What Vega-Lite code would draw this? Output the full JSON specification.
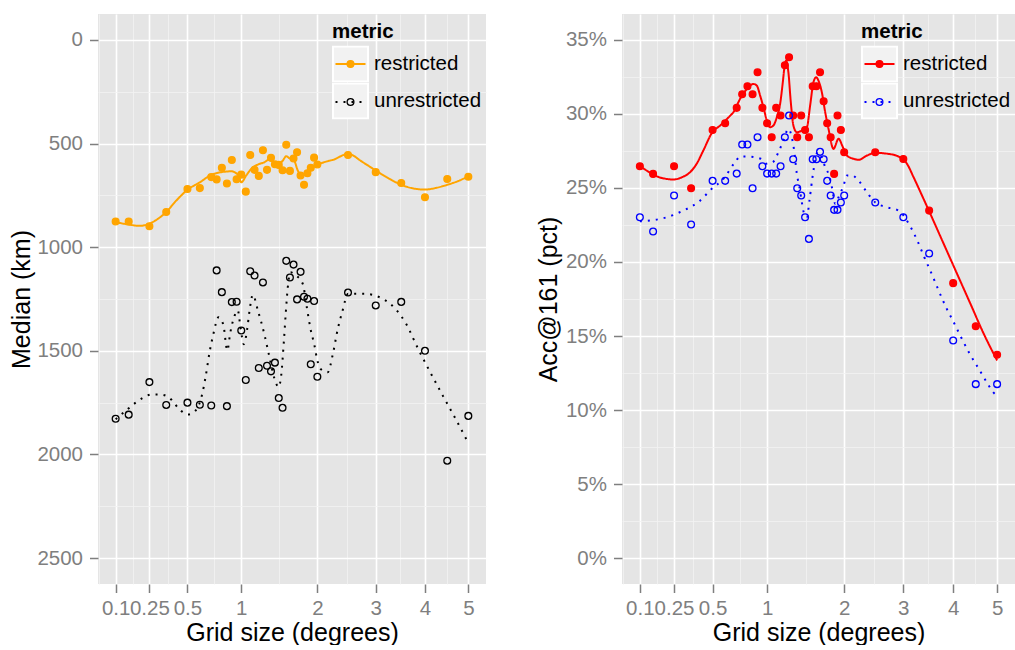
{
  "$schema": "https://vega.github.io/schema/vega-lite/v6.json",
  "padding": {"left": 9, "top": 14, "right": 0, "bottom": 0},
  "spacing": 50,
  "resolve": {
    "scale": {"color": "independent", "stroke": "independent", "fill": "independent", "strokeDash": "independent", "shape": "independent"},
    "legend": {"color": "independent", "stroke": "independent", "fill": "independent", "strokeDash": "independent", "shape": "independent"}
  },
  "config": {
    "font": "Liberation Sans",
    "view": {"fill": "#E5E5E5", "stroke": null},
    "axis": {
      "labelFont": "Liberation Sans",
      "titleFont": "Liberation Sans",
      "labelFontSize": 20.5,
      "labelColor": "#7F7F7F",
      "titleFontSize": 25,
      "titleFontWeight": "normal",
      "titleColor": "#000000",
      "tickColor": "#7F7F7F",
      "tickSize": 8.5,
      "tickWidth": 1.5,
      "domain": false,
      "labelOverlap": false,
      "labelFlush": false
    },
    "legend": {
      "labelFont": "Liberation Sans",
      "titleFont": "Liberation Sans",
      "clipHeight": 37,
      "rowPadding": 0,
      "padding": 0,
      "orient": "none"
    }
  },
  "datasets": {
    "keys": [
      {"metric": "restricted"},
      {"metric": "unrestricted"}
    ],
    "medianPts": [
      {"size": 0.1, "metric": "restricted", "km": 876},
      {"size": 0.15, "metric": "restricted", "km": 876},
      {"size": 0.25, "metric": "restricted", "km": 899},
      {"size": 0.35, "metric": "restricted", "km": 830},
      {"size": 0.5, "metric": "restricted", "km": 719},
      {"size": 0.6, "metric": "restricted", "km": 715},
      {"size": 0.7, "metric": "restricted", "km": 662},
      {"size": 0.75, "metric": "restricted", "km": 673},
      {"size": 0.8, "metric": "restricted", "km": 617},
      {"size": 0.85, "metric": "restricted", "km": 693},
      {"size": 0.9, "metric": "restricted", "km": 579},
      {"size": 0.95, "metric": "restricted", "km": 672},
      {"size": 1.0, "metric": "restricted", "km": 650},
      {"size": 1.05, "metric": "restricted", "km": 732},
      {"size": 1.1, "metric": "restricted", "km": 555},
      {"size": 1.15, "metric": "restricted", "km": 627},
      {"size": 1.2, "metric": "restricted", "km": 656},
      {"size": 1.25, "metric": "restricted", "km": 532},
      {"size": 1.3, "metric": "restricted", "km": 627},
      {"size": 1.35, "metric": "restricted", "km": 569},
      {"size": 1.4, "metric": "restricted", "km": 600},
      {"size": 1.45, "metric": "restricted", "km": 603},
      {"size": 1.5, "metric": "restricted", "km": 629},
      {"size": 1.55, "metric": "restricted", "km": 506},
      {"size": 1.6, "metric": "restricted", "km": 632},
      {"size": 1.65, "metric": "restricted", "km": 572},
      {"size": 1.7, "metric": "restricted", "km": 542},
      {"size": 1.75, "metric": "restricted", "km": 654},
      {"size": 1.8, "metric": "restricted", "km": 699},
      {"size": 1.85, "metric": "restricted", "km": 643},
      {"size": 1.9, "metric": "restricted", "km": 617},
      {"size": 1.95, "metric": "restricted", "km": 568},
      {"size": 2.0, "metric": "restricted", "km": 601},
      {"size": 2.5, "metric": "restricted", "km": 555},
      {"size": 3.0, "metric": "restricted", "km": 638},
      {"size": 3.5, "metric": "restricted", "km": 690},
      {"size": 4.0, "metric": "restricted", "km": 759},
      {"size": 4.5, "metric": "restricted", "km": 671},
      {"size": 5.0, "metric": "restricted", "km": 660},
      {"size": 0.1, "metric": "unrestricted", "km": 1828},
      {"size": 0.15, "metric": "unrestricted", "km": 1808},
      {"size": 0.25, "metric": "unrestricted", "km": 1651},
      {"size": 0.35, "metric": "unrestricted", "km": 1761},
      {"size": 0.5, "metric": "unrestricted", "km": 1750},
      {"size": 0.6, "metric": "unrestricted", "km": 1760},
      {"size": 0.7, "metric": "unrestricted", "km": 1764},
      {"size": 0.75, "metric": "unrestricted", "km": 1112},
      {"size": 0.8, "metric": "unrestricted", "km": 1217},
      {"size": 0.85, "metric": "unrestricted", "km": 1767},
      {"size": 0.9, "metric": "unrestricted", "km": 1265},
      {"size": 0.95, "metric": "unrestricted", "km": 1263},
      {"size": 1.0, "metric": "unrestricted", "km": 1402},
      {"size": 1.05, "metric": "unrestricted", "km": 1641},
      {"size": 1.1, "metric": "unrestricted", "km": 1116},
      {"size": 1.15, "metric": "unrestricted", "km": 1137},
      {"size": 1.2, "metric": "unrestricted", "km": 1583},
      {"size": 1.25, "metric": "unrestricted", "km": 1170},
      {"size": 1.3, "metric": "unrestricted", "km": 1572},
      {"size": 1.35, "metric": "unrestricted", "km": 1599},
      {"size": 1.4, "metric": "unrestricted", "km": 1557},
      {"size": 1.45, "metric": "unrestricted", "km": 1728},
      {"size": 1.5, "metric": "unrestricted", "km": 1775},
      {"size": 1.55, "metric": "unrestricted", "km": 1066},
      {"size": 1.6, "metric": "unrestricted", "km": 1146},
      {"size": 1.65, "metric": "unrestricted", "km": 1084},
      {"size": 1.7, "metric": "unrestricted", "km": 1252},
      {"size": 1.75, "metric": "unrestricted", "km": 1119},
      {"size": 1.8, "metric": "unrestricted", "km": 1239},
      {"size": 1.85, "metric": "unrestricted", "km": 1249},
      {"size": 1.9, "metric": "unrestricted", "km": 1565},
      {"size": 1.95, "metric": "unrestricted", "km": 1260},
      {"size": 2.0, "metric": "unrestricted", "km": 1625},
      {"size": 2.5, "metric": "unrestricted", "km": 1219},
      {"size": 3.0, "metric": "unrestricted", "km": 1281},
      {"size": 3.5, "metric": "unrestricted", "km": 1264},
      {"size": 4.0, "metric": "unrestricted", "km": 1500},
      {"size": 4.5, "metric": "unrestricted", "km": 2030},
      {"size": 5.0, "metric": "unrestricted", "km": 1814}
    ],
    "medianFit": [
      {"size": 0.1, "metric": "restricted", "km": 879},
      {"size": 0.151, "metric": "restricted", "km": 891},
      {"size": 0.2, "metric": "restricted", "km": 897},
      {"size": 0.25, "metric": "restricted", "km": 887},
      {"size": 0.299, "metric": "restricted", "km": 863},
      {"size": 0.35, "metric": "restricted", "km": 830},
      {"size": 0.418, "metric": "restricted", "km": 775},
      {"size": 0.5, "metric": "restricted", "km": 723},
      {"size": 0.6, "metric": "restricted", "km": 687},
      {"size": 0.7, "metric": "restricted", "km": 651},
      {"size": 0.794, "metric": "restricted", "km": 638},
      {"size": 0.894, "metric": "restricted", "km": 634},
      {"size": 0.971, "metric": "restricted", "km": 654},
      {"size": 1.0, "metric": "restricted", "km": 687},
      {"size": 1.055, "metric": "restricted", "km": 654},
      {"size": 1.112, "metric": "restricted", "km": 622},
      {"size": 1.19, "metric": "restricted", "km": 601},
      {"size": 1.269, "metric": "restricted", "km": 590},
      {"size": 1.319, "metric": "restricted", "km": 579},
      {"size": 1.395, "metric": "restricted", "km": 590},
      {"size": 1.46, "metric": "restricted", "km": 595},
      {"size": 1.504, "metric": "restricted", "km": 582},
      {"size": 1.549, "metric": "restricted", "km": 561},
      {"size": 1.594, "metric": "restricted", "km": 571},
      {"size": 1.654, "metric": "restricted", "km": 579},
      {"size": 1.71, "metric": "restricted", "km": 630},
      {"size": 1.759, "metric": "restricted", "km": 654},
      {"size": 1.807, "metric": "restricted", "km": 646},
      {"size": 1.881, "metric": "restricted", "km": 627},
      {"size": 1.982, "metric": "restricted", "km": 606},
      {"size": 2.034, "metric": "restricted", "km": 598},
      {"size": 2.164, "metric": "restricted", "km": 585},
      {"size": 2.244, "metric": "restricted", "km": 579},
      {"size": 2.502, "metric": "restricted", "km": 550},
      {"size": 2.76, "metric": "restricted", "km": 590},
      {"size": 3.0, "metric": "restricted", "km": 630},
      {"size": 3.263, "metric": "restricted", "km": 670},
      {"size": 3.5, "metric": "restricted", "km": 699},
      {"size": 3.737, "metric": "restricted", "km": 716},
      {"size": 4.0, "metric": "restricted", "km": 722},
      {"size": 4.245, "metric": "restricted", "km": 714},
      {"size": 4.5, "metric": "restricted", "km": 699},
      {"size": 4.743, "metric": "restricted", "km": 682},
      {"size": 5.0, "metric": "restricted", "km": 658},
      {"size": 0.1, "metric": "unrestricted", "km": 1830},
      {"size": 0.147, "metric": "unrestricted", "km": 1780},
      {"size": 0.216, "metric": "unrestricted", "km": 1727},
      {"size": 0.261, "metric": "unrestricted", "km": 1711},
      {"size": 0.313, "metric": "unrestricted", "km": 1711},
      {"size": 0.366, "metric": "unrestricted", "km": 1724},
      {"size": 0.449, "metric": "unrestricted", "km": 1788},
      {"size": 0.504, "metric": "unrestricted", "km": 1807},
      {"size": 0.565, "metric": "unrestricted", "km": 1788},
      {"size": 0.617, "metric": "unrestricted", "km": 1715},
      {"size": 0.649, "metric": "unrestricted", "km": 1627},
      {"size": 0.685, "metric": "unrestricted", "km": 1506},
      {"size": 0.719, "metric": "unrestricted", "km": 1420},
      {"size": 0.768, "metric": "unrestricted", "km": 1338},
      {"size": 0.814, "metric": "unrestricted", "km": 1373},
      {"size": 0.854, "metric": "unrestricted", "km": 1498},
      {"size": 0.884, "metric": "unrestricted", "km": 1413},
      {"size": 0.929, "metric": "unrestricted", "km": 1330},
      {"size": 0.963, "metric": "unrestricted", "km": 1305},
      {"size": 0.989, "metric": "unrestricted", "km": 1378},
      {"size": 1.028, "metric": "unrestricted", "km": 1468},
      {"size": 1.066, "metric": "unrestricted", "km": 1394},
      {"size": 1.092, "metric": "unrestricted", "km": 1307},
      {"size": 1.13, "metric": "unrestricted", "km": 1230},
      {"size": 1.189, "metric": "unrestricted", "km": 1305},
      {"size": 1.269, "metric": "unrestricted", "km": 1423},
      {"size": 1.319, "metric": "unrestricted", "km": 1510},
      {"size": 1.395, "metric": "unrestricted", "km": 1635},
      {"size": 1.447, "metric": "unrestricted", "km": 1675},
      {"size": 1.482, "metric": "unrestricted", "km": 1619},
      {"size": 1.517, "metric": "unrestricted", "km": 1458},
      {"size": 1.544, "metric": "unrestricted", "km": 1314},
      {"size": 1.571, "metric": "unrestricted", "km": 1193},
      {"size": 1.608, "metric": "unrestricted", "km": 1121},
      {"size": 1.688, "metric": "unrestricted", "km": 1137},
      {"size": 1.782, "metric": "unrestricted", "km": 1177},
      {"size": 1.841, "metric": "unrestricted", "km": 1290},
      {"size": 1.896, "metric": "unrestricted", "km": 1394},
      {"size": 1.956, "metric": "unrestricted", "km": 1474},
      {"size": 1.997, "metric": "unrestricted", "km": 1542},
      {"size": 2.059, "metric": "unrestricted", "km": 1590},
      {"size": 2.164, "metric": "unrestricted", "km": 1603},
      {"size": 2.244, "metric": "unrestricted", "km": 1518},
      {"size": 2.327, "metric": "unrestricted", "km": 1394},
      {"size": 2.4, "metric": "unrestricted", "km": 1314},
      {"size": 2.502, "metric": "unrestricted", "km": 1225},
      {"size": 2.791, "metric": "unrestricted", "km": 1225},
      {"size": 3.133, "metric": "unrestricted", "km": 1249},
      {"size": 3.396, "metric": "unrestricted", "km": 1301},
      {"size": 3.6, "metric": "unrestricted", "km": 1370},
      {"size": 3.843, "metric": "unrestricted", "km": 1486},
      {"size": 4.103, "metric": "unrestricted", "km": 1598},
      {"size": 4.394, "metric": "unrestricted", "km": 1715},
      {"size": 4.689, "metric": "unrestricted", "km": 1826},
      {"size": 5.0, "metric": "unrestricted", "km": 1945}
    ],
    "accPts": [
      {"size": 0.1, "metric": "restricted", "acc": 26.47},
      {"size": 0.15, "metric": "restricted", "acc": 25.95},
      {"size": 0.25, "metric": "restricted", "acc": 26.47},
      {"size": 0.35, "metric": "restricted", "acc": 24.98},
      {"size": 0.5, "metric": "restricted", "acc": 28.92},
      {"size": 0.6, "metric": "restricted", "acc": 29.37},
      {"size": 0.7, "metric": "restricted", "acc": 30.41},
      {"size": 0.75, "metric": "restricted", "acc": 31.33},
      {"size": 0.8, "metric": "restricted", "acc": 31.87},
      {"size": 0.85, "metric": "restricted", "acc": 31.33},
      {"size": 0.9, "metric": "restricted", "acc": 32.81},
      {"size": 0.95, "metric": "restricted", "acc": 30.41},
      {"size": 1.0, "metric": "restricted", "acc": 29.37},
      {"size": 1.05, "metric": "restricted", "acc": 28.43},
      {"size": 1.1, "metric": "restricted", "acc": 30.41},
      {"size": 1.15, "metric": "restricted", "acc": 29.89},
      {"size": 1.2, "metric": "restricted", "acc": 33.29},
      {"size": 1.25, "metric": "restricted", "acc": 33.83},
      {"size": 1.3, "metric": "restricted", "acc": 29.89},
      {"size": 1.35, "metric": "restricted", "acc": 28.43},
      {"size": 1.4, "metric": "restricted", "acc": 29.89},
      {"size": 1.45, "metric": "restricted", "acc": 28.92},
      {"size": 1.5, "metric": "restricted", "acc": 28.43},
      {"size": 1.55, "metric": "restricted", "acc": 31.87},
      {"size": 1.6, "metric": "restricted", "acc": 31.87},
      {"size": 1.65, "metric": "restricted", "acc": 32.81},
      {"size": 1.7, "metric": "restricted", "acc": 30.86},
      {"size": 1.75, "metric": "restricted", "acc": 29.37},
      {"size": 1.8, "metric": "restricted", "acc": 28.43},
      {"size": 1.85, "metric": "restricted", "acc": 25.95},
      {"size": 1.9, "metric": "restricted", "acc": 29.89},
      {"size": 1.95, "metric": "restricted", "acc": 28.92},
      {"size": 2.0, "metric": "restricted", "acc": 27.41},
      {"size": 2.5, "metric": "restricted", "acc": 27.41},
      {"size": 3.0, "metric": "restricted", "acc": 26.96},
      {"size": 3.5, "metric": "restricted", "acc": 23.47},
      {"size": 4.0, "metric": "restricted", "acc": 18.57},
      {"size": 4.5, "metric": "restricted", "acc": 15.66},
      {"size": 5.0, "metric": "restricted", "acc": 13.73},
      {"size": 0.1, "metric": "unrestricted", "acc": 23.02},
      {"size": 0.15, "metric": "unrestricted", "acc": 22.06},
      {"size": 0.25, "metric": "unrestricted", "acc": 24.49},
      {"size": 0.35, "metric": "unrestricted", "acc": 22.53},
      {"size": 0.5, "metric": "unrestricted", "acc": 25.48},
      {"size": 0.6, "metric": "unrestricted", "acc": 25.48},
      {"size": 0.7, "metric": "unrestricted", "acc": 25.97},
      {"size": 0.75, "metric": "unrestricted", "acc": 27.93},
      {"size": 0.8, "metric": "unrestricted", "acc": 27.93},
      {"size": 0.85, "metric": "unrestricted", "acc": 24.98},
      {"size": 0.9, "metric": "unrestricted", "acc": 28.43},
      {"size": 0.95, "metric": "unrestricted", "acc": 26.47},
      {"size": 1.0, "metric": "unrestricted", "acc": 25.97},
      {"size": 1.05, "metric": "unrestricted", "acc": 25.97},
      {"size": 1.1, "metric": "unrestricted", "acc": 25.97},
      {"size": 1.15, "metric": "unrestricted", "acc": 26.47},
      {"size": 1.2, "metric": "unrestricted", "acc": 28.43},
      {"size": 1.25, "metric": "unrestricted", "acc": 29.89},
      {"size": 1.3, "metric": "unrestricted", "acc": 26.94},
      {"size": 1.35, "metric": "unrestricted", "acc": 24.98},
      {"size": 1.4, "metric": "unrestricted", "acc": 24.49},
      {"size": 1.45, "metric": "unrestricted", "acc": 23.02},
      {"size": 1.5, "metric": "unrestricted", "acc": 21.56},
      {"size": 1.55, "metric": "unrestricted", "acc": 26.94},
      {"size": 1.6, "metric": "unrestricted", "acc": 26.94},
      {"size": 1.65, "metric": "unrestricted", "acc": 27.44},
      {"size": 1.7, "metric": "unrestricted", "acc": 26.94},
      {"size": 1.75, "metric": "unrestricted", "acc": 25.48},
      {"size": 1.8, "metric": "unrestricted", "acc": 24.49},
      {"size": 1.85, "metric": "unrestricted", "acc": 23.52},
      {"size": 1.9, "metric": "unrestricted", "acc": 23.52},
      {"size": 1.95, "metric": "unrestricted", "acc": 24.02},
      {"size": 2.0, "metric": "unrestricted", "acc": 24.49},
      {"size": 2.5, "metric": "unrestricted", "acc": 24.02},
      {"size": 3.0, "metric": "unrestricted", "acc": 23.02},
      {"size": 3.5, "metric": "unrestricted", "acc": 20.57},
      {"size": 4.0, "metric": "unrestricted", "acc": 14.7},
      {"size": 4.5, "metric": "unrestricted", "acc": 11.75},
      {"size": 5.0, "metric": "unrestricted", "acc": 11.75}
    ],
    "accFit": [
      {"size": 0.1, "metric": "restricted", "acc": 26.47},
      {"size": 0.124, "metric": "restricted", "acc": 26.18},
      {"size": 0.165, "metric": "restricted", "acc": 25.79},
      {"size": 0.212, "metric": "restricted", "acc": 25.61},
      {"size": 0.248, "metric": "restricted", "acc": 25.57},
      {"size": 0.293, "metric": "restricted", "acc": 25.72},
      {"size": 0.343, "metric": "restricted", "acc": 26.06},
      {"size": 0.386, "metric": "restricted", "acc": 26.63},
      {"size": 0.432, "metric": "restricted", "acc": 27.53},
      {"size": 0.498, "metric": "restricted", "acc": 28.76},
      {"size": 0.558, "metric": "restricted", "acc": 29.21},
      {"size": 0.641, "metric": "restricted", "acc": 29.87},
      {"size": 0.67, "metric": "restricted", "acc": 30.11},
      {"size": 0.731, "metric": "restricted", "acc": 31.02},
      {"size": 0.809, "metric": "restricted", "acc": 31.8},
      {"size": 0.858, "metric": "restricted", "acc": 32.03},
      {"size": 0.892, "metric": "restricted", "acc": 31.92},
      {"size": 0.926, "metric": "restricted", "acc": 31.25},
      {"size": 0.961, "metric": "restricted", "acc": 30.45},
      {"size": 0.997, "metric": "restricted", "acc": 29.56},
      {"size": 1.032, "metric": "restricted", "acc": 29.1},
      {"size": 1.069, "metric": "restricted", "acc": 29.22},
      {"size": 1.107, "metric": "restricted", "acc": 29.78},
      {"size": 1.145, "metric": "restricted", "acc": 30.68},
      {"size": 1.176, "metric": "restricted", "acc": 32.14},
      {"size": 1.195, "metric": "restricted", "acc": 33.15},
      {"size": 1.215, "metric": "restricted", "acc": 33.6},
      {"size": 1.242, "metric": "restricted", "acc": 32.81},
      {"size": 1.271, "metric": "restricted", "acc": 30.79},
      {"size": 1.303, "metric": "restricted", "acc": 29.21},
      {"size": 1.345, "metric": "restricted", "acc": 28.76},
      {"size": 1.408, "metric": "restricted", "acc": 28.88},
      {"size": 1.473, "metric": "restricted", "acc": 29.1},
      {"size": 1.516, "metric": "restricted", "acc": 30.57},
      {"size": 1.56, "metric": "restricted", "acc": 32.14},
      {"size": 1.597, "metric": "restricted", "acc": 32.48},
      {"size": 1.628, "metric": "restricted", "acc": 32.25},
      {"size": 1.675, "metric": "restricted", "acc": 31.46},
      {"size": 1.722, "metric": "restricted", "acc": 30.11},
      {"size": 1.769, "metric": "restricted", "acc": 28.99},
      {"size": 1.841, "metric": "restricted", "acc": 27.64},
      {"size": 1.915, "metric": "restricted", "acc": 28.32},
      {"size": 1.981, "metric": "restricted", "acc": 27.75},
      {"size": 2.042, "metric": "restricted", "acc": 27.19},
      {"size": 2.145, "metric": "restricted", "acc": 26.97},
      {"size": 2.224, "metric": "restricted", "acc": 26.9},
      {"size": 2.361, "metric": "restricted", "acc": 27.19},
      {"size": 2.501, "metric": "restricted", "acc": 27.37},
      {"size": 2.732, "metric": "restricted", "acc": 27.3},
      {"size": 2.913, "metric": "restricted", "acc": 27.12},
      {"size": 3.069, "metric": "restricted", "acc": 26.63},
      {"size": 3.195, "metric": "restricted", "acc": 25.72},
      {"size": 3.358, "metric": "restricted", "acc": 24.49},
      {"size": 3.524, "metric": "restricted", "acc": 23.25},
      {"size": 3.798, "metric": "restricted", "acc": 21.23},
      {"size": 4.084, "metric": "restricted", "acc": 19.2},
      {"size": 4.379, "metric": "restricted", "acc": 17.18},
      {"size": 4.684, "metric": "restricted", "acc": 15.15},
      {"size": 5.0, "metric": "restricted", "acc": 13.35},
      {"size": 0.1, "metric": "unrestricted", "acc": 22.75},
      {"size": 0.137, "metric": "unrestricted", "acc": 22.8},
      {"size": 0.212, "metric": "unrestricted", "acc": 23.02},
      {"size": 0.302, "metric": "unrestricted", "acc": 23.47},
      {"size": 0.402, "metric": "unrestricted", "acc": 24.08},
      {"size": 0.493, "metric": "unrestricted", "acc": 24.94},
      {"size": 0.585, "metric": "unrestricted", "acc": 25.61},
      {"size": 0.685, "metric": "unrestricted", "acc": 26.74},
      {"size": 0.731, "metric": "unrestricted", "acc": 27.12},
      {"size": 0.809, "metric": "unrestricted", "acc": 27.12},
      {"size": 0.933, "metric": "unrestricted", "acc": 26.97},
      {"size": 0.997, "metric": "unrestricted", "acc": 26.63},
      {"size": 1.062, "metric": "unrestricted", "acc": 26.74},
      {"size": 1.125, "metric": "unrestricted", "acc": 27.41},
      {"size": 1.183, "metric": "unrestricted", "acc": 28.2},
      {"size": 1.242, "metric": "unrestricted", "acc": 28.99},
      {"size": 1.283, "metric": "unrestricted", "acc": 28.43},
      {"size": 1.312, "metric": "unrestricted", "acc": 27.53},
      {"size": 1.345, "metric": "unrestricted", "acc": 25.95},
      {"size": 1.378, "metric": "unrestricted", "acc": 25.05},
      {"size": 1.408, "metric": "unrestricted", "acc": 24.04},
      {"size": 1.438, "metric": "unrestricted", "acc": 23.25},
      {"size": 1.473, "metric": "unrestricted", "acc": 23.02},
      {"size": 1.507, "metric": "unrestricted", "acc": 24.15},
      {"size": 1.547, "metric": "unrestricted", "acc": 25.72},
      {"size": 1.583, "metric": "unrestricted", "acc": 26.85},
      {"size": 1.615, "metric": "unrestricted", "acc": 27.41},
      {"size": 1.675, "metric": "unrestricted", "acc": 27.07},
      {"size": 1.722, "metric": "unrestricted", "acc": 26.4},
      {"size": 1.769, "metric": "unrestricted", "acc": 25.95},
      {"size": 1.818, "metric": "unrestricted", "acc": 25.05},
      {"size": 1.866, "metric": "unrestricted", "acc": 23.93},
      {"size": 1.915, "metric": "unrestricted", "acc": 24.37},
      {"size": 1.99, "metric": "unrestricted", "acc": 25.16},
      {"size": 2.042, "metric": "unrestricted", "acc": 25.84},
      {"size": 2.12, "metric": "unrestricted", "acc": 25.84},
      {"size": 2.224, "metric": "unrestricted", "acc": 25.5},
      {"size": 2.361, "metric": "unrestricted", "acc": 24.71},
      {"size": 2.501, "metric": "unrestricted", "acc": 24.02},
      {"size": 2.703, "metric": "unrestricted", "acc": 23.7},
      {"size": 2.913, "metric": "unrestricted", "acc": 23.47},
      {"size": 3.118, "metric": "unrestricted", "acc": 22.49},
      {"size": 3.272, "metric": "unrestricted", "acc": 21.4},
      {"size": 3.404, "metric": "unrestricted", "acc": 20.32},
      {"size": 3.551, "metric": "unrestricted", "acc": 19.2},
      {"size": 3.694, "metric": "unrestricted", "acc": 18.07},
      {"size": 3.84, "metric": "unrestricted", "acc": 16.99},
      {"size": 4.011, "metric": "unrestricted", "acc": 15.93},
      {"size": 4.178, "metric": "unrestricted", "acc": 14.88},
      {"size": 4.363, "metric": "unrestricted", "acc": 13.8},
      {"size": 4.568, "metric": "unrestricted", "acc": 12.79},
      {"size": 4.777, "metric": "unrestricted", "acc": 11.77},
      {"size": 4.905, "metric": "unrestricted", "acc": 11.21},
      {"size": 5.0, "metric": "unrestricted", "acc": 10.95}
    ]
  },
  "hconcat": [
    {
      "width": 388,
      "height": 570,
      "resolve": {"axis": {"x": "independent", "y": "independent"}},
      "layer": [
        {
          "data": {"name": "keys"},
          "mark": {"type": "point", "filled": true, "color": "#F2F2F2", "stroke": "#FFFFFF", "strokeWidth": 2, "opacity": 0},
          "encoding": {
            "shape": {
              "field": "metric", "type": "nominal",
              "scale": {"range": ["square", "square"]},
              "legend": {
                "title": "metric", "orient": "none", "legendX": 234, "legendY": 8,
                "padding": 0, "titleFontSize": 20.5, "titleFontWeight": "bold", "titleColor": "#000000",
                "titlePadding": 3, "labelFontSize": 20.5, "labelColor": "#000000", "labelOffset": 5,
                "symbolSize": 1225, "symbolStrokeWidth": 2, "symbolOpacity": 1, "rowPadding": 0, "clipHeight": 37
              }
            }
          }
        },
        {
          "data": {"name": "medianFit"},
          "mark": {"type": "line", "interpolate": "monotone", "strokeWidth": 2, "strokeCap": "butt"},
          "encoding": {
            "x": {
              "field": "size", "type": "quantitative",
              "scale": {"type": "sqrt", "domain": [0.0485, 5.4392], "nice": false, "zero": false},
              "axis": {"orient": "bottom", "values": [0.0503, 0.1666, 0.3643, 0.7286, 1.4571, 2.4747, 3.482, 4.486], "grid": true, "gridColor": "#F2F2F2", "gridWidth": 0.8, "labels": false, "ticks": false, "title": null}
            },
            "y": {
              "field": "km", "type": "quantitative",
              "scale": {"domain": [-125, 2625], "reverse": true, "nice": false, "zero": false},
              "axis": {"orient": "left", "values": [250, 750, 1250, 1750, 2250], "grid": true, "gridColor": "#F2F2F2", "gridWidth": 0.8, "labels": false, "ticks": false, "title": null}
            },
            "color": {
              "field": "metric", "type": "nominal",
              "scale": {"range": ["#FFA500", "#000000"]},
              "legend": {"title": null, "orient": "none", "legendX": 234, "legendY": 31.5, "padding": 0, "symbolType": "stroke", "symbolSize": 900, "symbolStrokeWidth": 2, "labelFontSize": 37, "labelExpr": "''", "labelOpacity": 0, "rowPadding": 0, "clipHeight": 37}
            },
            "strokeDash": {
              "field": "metric", "type": "nominal",
              "scale": {"range": [[1, 0], [2, 6]]},
              "legend": {"title": null, "orient": "none", "legendX": 234, "legendY": 31.5, "padding": 0, "symbolType": "stroke", "symbolSize": 900, "symbolStrokeWidth": 2, "labelFontSize": 37, "labelExpr": "''", "labelOpacity": 0, "rowPadding": 0, "clipHeight": 37}
            }
          }
        },
        {
          "data": {"name": "medianPts"},
          "mark": {"type": "point", "shape": "circle", "size": 46, "strokeWidth": 1.3, "opacity": 1},
          "encoding": {
            "x": {
              "field": "size", "type": "quantitative",
              "scale": {"type": "sqrt", "domain": [0.0485, 5.4392], "nice": false, "zero": false},
              "axis": {"orient": "bottom", "values": [0.1, 0.25, 0.5, 1, 2, 3, 4, 5], "format": "~g", "grid": true, "gridColor": "#FFFFFF", "gridWidth": 1.6, "ticks": true, "tickSize": 8.5, "labelPadding": 6, "titlePadding": 1, "title": "Grid size (degrees)"}
            },
            "y": {
              "field": "km", "type": "quantitative",
              "scale": {"domain": [-125, 2625], "reverse": true, "nice": false, "zero": false},
              "axis": {"orient": "left", "values": [0, 500, 1000, 1500, 2000, 2500], "format": "d", "grid": true, "gridColor": "#FFFFFF", "gridWidth": 1.6, "ticks": true, "tickSize": 8.5, "labelPadding": 7, "titlePadding": 2, "title": "Median (km)"}
            },
            "stroke": {
              "field": "metric", "type": "nominal",
              "scale": {"range": ["#FFA500", "#000000"]},
              "legend": {"title": null, "orient": "none", "legendX": 234, "legendY": 31.5, "padding": 0, "symbolType": "circle", "symbolSize": 46, "symbolStrokeWidth": 1.3, "symbolOpacity": 1, "labelFontSize": 37, "labelExpr": "''", "labelOpacity": 0, "rowPadding": 0, "clipHeight": 37}
            },
            "fill": {
              "field": "metric", "type": "nominal",
              "scale": {"range": ["#FFA500", "transparent"]},
              "legend": {"title": null, "orient": "none", "legendX": 234, "legendY": 31.5, "padding": 0, "symbolType": "circle", "symbolSize": 46, "symbolStrokeWidth": 1.3, "symbolOpacity": 1, "labelFontSize": 37, "labelExpr": "''", "labelOpacity": 0, "rowPadding": 0, "clipHeight": 37}
            }
          }
        }
      ]
    },
    {
      "width": 393,
      "height": 570,
      "resolve": {"axis": {"x": "independent", "y": "independent"}},
      "layer": [
        {
          "data": {"name": "keys"},
          "mark": {"type": "point", "filled": true, "color": "#F2F2F2", "stroke": "#FFFFFF", "strokeWidth": 2, "opacity": 0},
          "encoding": {
            "shape": {
              "field": "metric", "type": "nominal",
              "scale": {"range": ["square", "square"]},
              "legend": {
                "title": "metric", "orient": "none", "legendX": 239, "legendY": 8,
                "padding": 0, "titleFontSize": 20.5, "titleFontWeight": "bold", "titleColor": "#000000",
                "titlePadding": 3, "labelFontSize": 20.5, "labelColor": "#000000", "labelOffset": 5,
                "symbolSize": 1225, "symbolStrokeWidth": 2, "symbolOpacity": 1, "rowPadding": 0, "clipHeight": 37
              }
            }
          }
        },
        {
          "data": {"name": "accFit"},
          "mark": {"type": "line", "interpolate": "monotone", "strokeWidth": 2, "strokeCap": "butt"},
          "encoding": {
            "x": {
              "field": "size", "type": "quantitative",
              "scale": {"type": "sqrt", "domain": [0.0485, 5.4392], "nice": false, "zero": false},
              "axis": {"orient": "bottom", "values": [0.0503, 0.1666, 0.3643, 0.7286, 1.4571, 2.4747, 3.482, 4.486], "grid": true, "gridColor": "#F2F2F2", "gridWidth": 0.8, "labels": false, "ticks": false, "title": null}
            },
            "y": {
              "field": "acc", "type": "quantitative",
              "scale": {"domain": [-1.75, 36.75], "nice": false, "zero": false},
              "axis": {"orient": "left", "values": [2.5, 7.5, 12.5, 17.5, 22.5, 27.5, 32.5], "grid": true, "gridColor": "#F2F2F2", "gridWidth": 0.8, "labels": false, "ticks": false, "title": null}
            },
            "color": {
              "field": "metric", "type": "nominal",
              "scale": {"range": ["#FF0000", "#0000FF"]},
              "legend": {"title": null, "orient": "none", "legendX": 239, "legendY": 31.5, "padding": 0, "symbolType": "stroke", "symbolSize": 900, "symbolStrokeWidth": 2, "labelFontSize": 37, "labelExpr": "''", "labelOpacity": 0, "rowPadding": 0, "clipHeight": 37}
            },
            "strokeDash": {
              "field": "metric", "type": "nominal",
              "scale": {"range": [[1, 0], [2, 6]]},
              "legend": {"title": null, "orient": "none", "legendX": 239, "legendY": 31.5, "padding": 0, "symbolType": "stroke", "symbolSize": 900, "symbolStrokeWidth": 2, "labelFontSize": 37, "labelExpr": "''", "labelOpacity": 0, "rowPadding": 0, "clipHeight": 37}
            }
          }
        },
        {
          "data": {"name": "accPts"},
          "mark": {"type": "point", "shape": "circle", "size": 46, "strokeWidth": 1.3, "opacity": 1},
          "encoding": {
            "x": {
              "field": "size", "type": "quantitative",
              "scale": {"type": "sqrt", "domain": [0.0485, 5.4392], "nice": false, "zero": false},
              "axis": {"orient": "bottom", "values": [0.1, 0.25, 0.5, 1, 2, 3, 4, 5], "format": "~g", "grid": true, "gridColor": "#FFFFFF", "gridWidth": 1.6, "ticks": true, "tickSize": 8.5, "labelPadding": 6, "titlePadding": 1, "title": "Grid size (degrees)"}
            },
            "y": {
              "field": "acc", "type": "quantitative",
              "scale": {"domain": [-1.75, 36.75], "nice": false, "zero": false},
              "axis": {"orient": "left", "values": [0, 5, 10, 15, 20, 25, 30, 35], "labelExpr": "datum.value + '%'", "grid": true, "gridColor": "#FFFFFF", "gridWidth": 1.6, "ticks": true, "tickSize": 8.5, "labelPadding": 7, "titlePadding": 4, "title": "Acc@161 (pct)"}
            },
            "stroke": {
              "field": "metric", "type": "nominal",
              "scale": {"range": ["#FF0000", "#0000FF"]},
              "legend": {"title": null, "orient": "none", "legendX": 239, "legendY": 31.5, "padding": 0, "symbolType": "circle", "symbolSize": 46, "symbolStrokeWidth": 1.3, "symbolOpacity": 1, "labelFontSize": 37, "labelExpr": "''", "labelOpacity": 0, "rowPadding": 0, "clipHeight": 37}
            },
            "fill": {
              "field": "metric", "type": "nominal",
              "scale": {"range": ["#FF0000", "transparent"]},
              "legend": {"title": null, "orient": "none", "legendX": 239, "legendY": 31.5, "padding": 0, "symbolType": "circle", "symbolSize": 46, "symbolStrokeWidth": 1.3, "symbolOpacity": 1, "labelFontSize": 37, "labelExpr": "''", "labelOpacity": 0, "rowPadding": 0, "clipHeight": 37}
            }
          }
        }
      ]
    }
  ]
}
